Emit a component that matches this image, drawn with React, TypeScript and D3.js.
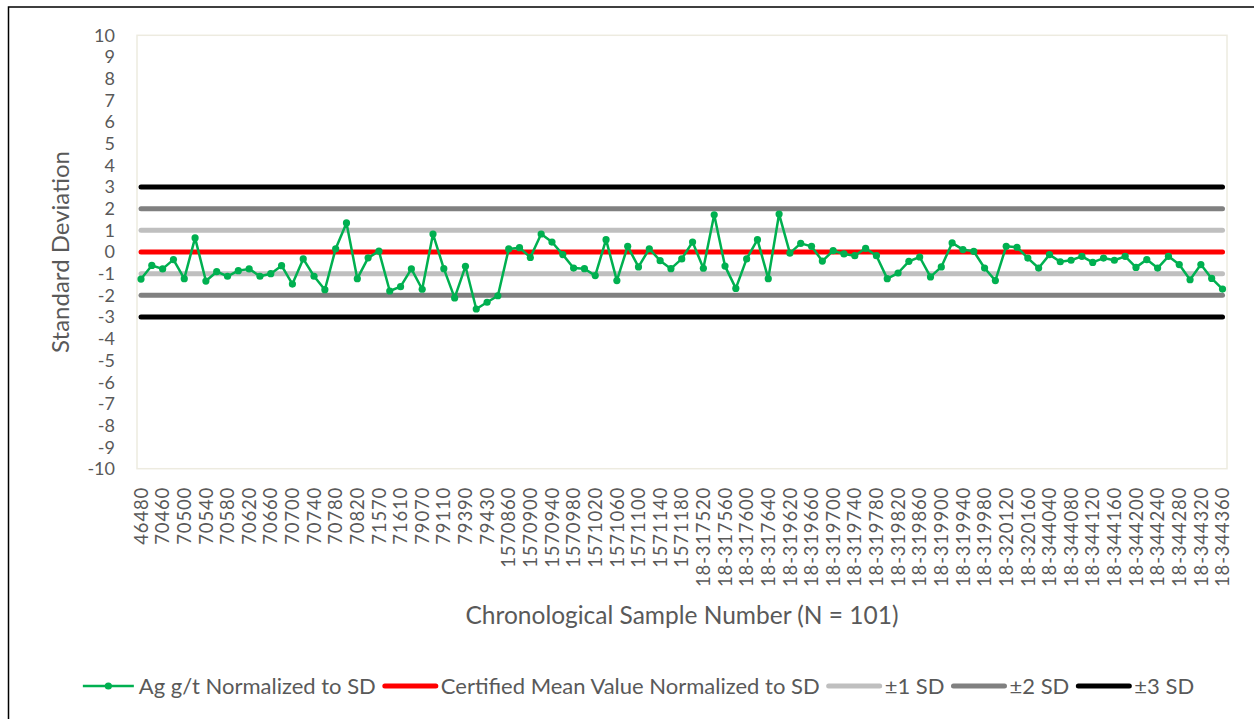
import React, { useEffect, useRef } from "react";
import * as d3 from "d3";

const tickLabels: string[] = [
  "46480", "70460", "70500", "70540", "70580", "70620", "70660", "70700", "70740", "70780",
  "70820", "71570", "71610", "79070", "79110", "79390", "79430", "1570860", "1570900", "1570940",
  "1570980", "1571020", "1571060", "1571100", "1571140", "1571180", "18-317520", "18-317560", "18-317600", "18-317640",
  "18-319620", "18-319660", "18-319700", "18-319740", "18-319780", "18-319820", "18-319860", "18-319900", "18-319940", "18-319980",
  "18-320120", "18-320160", "18-344040", "18-344080", "18-344120", "18-344160", "18-344200", "18-344240", "18-344280", "18-344320",
  "18-344360",
];

const agValues: number[] = [
  -1.25, -0.62, -0.78, -0.35, -1.23, 0.65, -1.34, -0.91, -1.12, -0.86,
  -0.78, -1.12, -1.0, -0.63, -1.48, -0.32, -1.12, -1.74, 0.15, 1.34,
  -1.23, -0.27, 0.04, -1.8, -1.6, -0.78, -1.72, 0.83, -0.77, -2.12,
  -0.66, -2.63, -2.32, -2.02, 0.14, 0.2, -0.25, 0.83, 0.46, -0.12,
  -0.74, -0.77, -1.09, 0.57, -1.32, 0.26, -0.69, 0.15, -0.4, -0.77,
  -0.32, 0.46, -0.75, 1.72, -0.65, -1.68, -0.32, 0.57, -1.23, 1.75,
  -0.05, 0.4, 0.26, -0.42, 0.06, -0.09, -0.17, 0.17, -0.17, -1.23,
  -0.97, -0.43, -0.23, -1.15, -0.69, 0.42, 0.11, 0.03, -0.74, -1.32,
  0.26, 0.22, -0.28, -0.74, -0.12, -0.45, -0.38, -0.2, -0.48, -0.28,
  -0.38, -0.2, -0.71, -0.35, -0.74, -0.2, -0.58, -1.28, -0.58, -1.22,
  -1.71,
];

const meanLevel: number[] = [0];
const sd1Levels: number[] = [1, -1];
const sd2Levels: number[] = [2, -2];
const sd3Levels: number[] = [3, -3];

const yTicks: number[] = d3.range(-10, 11, 1);

const seriesNames: string[] = [
  "Ag g/t Normalized to SD",
  "Certified Mean Value Normalized to SD",
  "±1 SD",
  "±2 SD",
  "±3 SD",
];

const COLORS = {
  ag: "#00B050",
  mean: "#FF0000",
  sd1: "#BFBFBF",
  sd2: "#808080",
  sd3: "#000000",
  text: "#595959",
  plotBorder: "#EDEBE0",
};

const FONT = "Lato, 'Open Sans', sans-serif";

export default function App() {
  const ref = useRef<SVGSVGElement | null>(null);

  useEffect(() => {
    const svg = d3.select(ref.current);
    svg.selectAll("*").remove();

    const W = 1254;
    const H = 719;
    const plot = { left: 137, right: 1227, top: 35.3, bottom: 468.7 };

    // outer chart border (only left/top visible)
    svg
      .append("rect")
      .attr("x", 8.5)
      .attr("y", 7)
      .attr("width", W + 20)
      .attr("height", H + 20)
      .attr("fill", "#fff")
      .attr("stroke", "#000")
      .attr("stroke-width", 1.5);

    // plot area border
    svg
      .append("rect")
      .attr("x", plot.left)
      .attr("y", plot.top)
      .attr("width", plot.right - plot.left)
      .attr("height", plot.bottom - plot.top)
      .attr("fill", "none")
      .attr("stroke", COLORS.plotBorder)
      .attr("stroke-width", 1.5);

    const idx = d3.range(agValues.length);
    const x = d3.scalePoint<number>().domain(idx).range([141, 1222.5]);
    const y = d3.scaleLinear().domain([-10, 10]).range([plot.bottom, plot.top]);

    // y ticks
    const yAxis = svg.append("g").attr("font-family", FONT).attr("font-size", 18).attr("fill", COLORS.text);
    yAxis
      .selectAll("text")
      .data(yTicks)
      .join("text")
      .attr("x", 115)
      .attr("y", (d) => y(d))
      .attr("dy", "0.36em")
      .attr("text-anchor", "end")
      .text((d) => String(d));

    // x tick labels (every other category)
    const xAxis = svg
      .append("g")
      .attr("font-family", FONT)
      .attr("font-size", 18.5)
      .attr("letter-spacing", 0.8)
      .attr("fill", COLORS.text);
    xAxis
      .selectAll("text")
      .data(tickLabels)
      .join("text")
      .attr("transform", (_d, i) => `translate(${x(i * 2)},${487}) rotate(-90)`)
      .attr("dy", "0.36em")
      .attr("text-anchor", "end")
      .text((d) => d);

    // axis titles
    svg
      .append("text")
      .attr("transform", `translate(60,${(plot.top + plot.bottom) / 2}) rotate(-90)`)
      .attr("text-anchor", "middle")
      .attr("dy", "0.36em")
      .attr("font-family", FONT)
      .attr("font-size", 24)
      .attr("fill", COLORS.text)
      .text("Standard Deviation");

    svg
      .append("text")
      .attr("x", 682)
      .attr("y", 615)
      .attr("text-anchor", "middle")
      .attr("dy", "0.36em")
      .attr("font-family", FONT)
      .attr("font-size", 24.5)
      .attr("fill", COLORS.text)
      .text("Chronological Sample Number (N = " + agValues.length + ")");

    // reference lines
    const refGroups: [number[], string][] = [
      [sd3Levels, COLORS.sd3],
      [sd2Levels, COLORS.sd2],
      [sd1Levels, COLORS.sd1],
      [meanLevel, COLORS.mean],
    ];
    const lineGen = d3
      .line<[number, number]>()
      .x((d) => x(d[0]) as number)
      .y((d) => y(d[1]));
    refGroups.forEach(([levels, color]) => {
      levels.forEach((lv) => {
        const pts: [number, number][] = idx.map((i) => [i, lv]);
        svg
          .append("path")
          .attr("d", lineGen(pts) as string)
          .attr("fill", "none")
          .attr("stroke", color)
          .attr("stroke-width", 5)
          .attr("stroke-linecap", "round");
      });
    });

    // Ag series
    const agPts: [number, number][] = agValues.map((v, i) => [i, v]);
    svg
      .append("path")
      .attr("d", lineGen(agPts) as string)
      .attr("fill", "none")
      .attr("stroke", COLORS.ag)
      .attr("stroke-width", 2.5)
      .attr("stroke-linejoin", "round");
    svg
      .append("g")
      .selectAll("circle")
      .data(agPts)
      .join("circle")
      .attr("cx", (d) => x(d[0]) as number)
      .attr("cy", (d) => y(d[1]))
      .attr("r", 3.6)
      .attr("fill", COLORS.ag);

    // legend
    const legendColors = [COLORS.ag, COLORS.mean, COLORS.sd1, COLORS.sd2, COLORS.sd3];
    const legendY = 686;
    const symW = 55;
    const gapSymText = 3;
    const gapItem = 7;
    const lg = svg.append("g").attr("font-family", FONT).attr("font-size", 22).attr("fill", COLORS.text);
    const texts = seriesNames.map((name) =>
      lg.append("text").attr("y", legendY).attr("dy", "0.36em").text(name)
    );
    const widths = texts.map((t) => (t.node() as SVGTextElement).getComputedTextLength());
    const total = widths.reduce((a, b) => a + b, 0) + seriesNames.length * (symW + gapSymText) + (seriesNames.length - 1) * gapItem;
    let cx = 637.5 - total / 2;
    seriesNames.forEach((_n, i) => {
      const color = legendColors[i];
      lg.append("line")
        .attr("x1", cx + 2)
        .attr("x2", cx + symW - 2)
        .attr("y1", legendY)
        .attr("y2", legendY)
        .attr("stroke", color)
        .attr("stroke-width", i === 0 ? 2.5 : 5)
        .attr("stroke-linecap", i === 0 ? "butt" : "round");
      if (i === 0) {
        lg.append("circle").attr("cx", cx + symW / 2).attr("cy", legendY).attr("r", 3.6).attr("fill", color);
      }
      texts[i].attr("x", cx + symW + gapSymText);
      cx += symW + gapSymText + widths[i] + gapItem;
    });
  }, []);

  return (
    <svg
      ref={ref}
      width={1254}
      height={719}
      style={{ position: "absolute", left: 0, top: 0, display: "block", background: "#fff" }}
    />
  );
}
